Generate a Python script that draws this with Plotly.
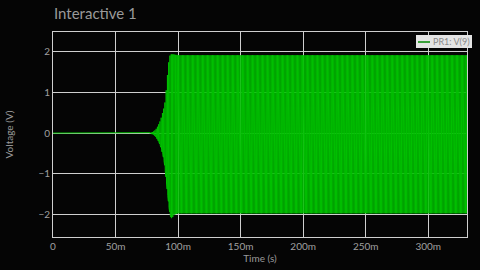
import numpy as np
import plotly.graph_objects as go

# Envelope of the oscillation (time in ms, volts)
env_time_ms = [0, 77, 80, 82, 84, 86, 88, 89, 90, 91, 92, 93, 94, 95, 97, 100, 331]
env_upper = [0, 0.005, 0.03, 0.08, 0.18, 0.32, 0.55, 0.65, 0.85, 1.25, 1.6, 1.87, 1.93, 1.93, 1.92, 1.91, 1.91]
env_lower = [0, -0.005, -0.03, -0.08, -0.18, -0.32, -0.55, -0.72, -1.0, -1.3, -1.6, -1.9, -2.05, -2.1, -2.0, -1.97, -1.97]
peak_spacing_ms = 0.25
series_name = "PR1: V(9)"

x_tick_vals = [0, 0.05, 0.10, 0.15, 0.20, 0.25, 0.30]
x_tick_text = ["0", "50m", "100m", "150m", "200m", "250m", "300m"]
y_tick_vals = [-2, -1, 0, 1, 2]

# build alternating peaks following the envelope
t_ms = np.arange(0, env_time_ms[-1] + peak_spacing_ms, peak_spacing_ms)
up = np.interp(t_ms, env_time_ms, env_upper)
lo = np.interp(t_ms, env_time_ms, env_lower)
v = np.where(np.arange(len(t_ms)) % 2 == 0, up, lo)
t_s = t_ms / 1000.0

fig = go.Figure()
fig.add_trace(go.Scatter(x=t_s, y=v, mode="lines", name=series_name,
                         line=dict(color="#00c000", width=1), showlegend=False))

grid = "#cfcfcf"
fig.update_layout(
    width=480, height=270,
    margin=dict(l=53, r=13, t=32, b=33),
    paper_bgcolor="#050505", plot_bgcolor="#050505",
    font=dict(family="Lato", color="#9a9a9a", size=10),
    title=dict(text="Interactive 1", x=54/480, xanchor="left", xref="container",
               y=1 - 14/270, yanchor="middle", yref="container",
               font=dict(size=15, color="#9a9a9a", family="Lato")),
    xaxis=dict(range=[0, 0.331], tickvals=x_tick_vals, ticktext=x_tick_text,
               showgrid=True, gridcolor=grid, gridwidth=1, zeroline=False,
               showline=True, linecolor=grid, mirror=True, ticks="", automargin=False,
               title=dict(text="Time (s)", standoff=2, font=dict(size=10, color="#9a9a9a")),
               tickfont=dict(size=10, color="#a0a0a0")),
    yaxis=dict(range=[-2.55, 2.48], tickvals=y_tick_vals,
               showgrid=True, gridcolor=grid, gridwidth=1, zeroline=False,
               showline=True, linecolor=grid, mirror=True, ticks="", automargin=False,
               title=dict(text="Voltage (V)", standoff=22, font=dict(size=10, color="#9a9a9a")),
               tickfont=dict(size=10, color="#a0a0a0")),
)

# legend box drawn as shape + sample line + text
fig.add_shape(type="rect", xref="paper", yref="paper",
              x0=(416 - 53) / 414, x1=(472 - 53) / 414,
              y0=1 - (48 - 32) / 205, y1=1 - (35 - 32) / 205,
              fillcolor="#e4e4e4", line=dict(width=0), layer="above")
fig.add_shape(type="line", xref="paper", yref="paper",
              x0=(418 - 53) / 414, x1=(430 - 53) / 414,
              y0=1 - (42 - 32) / 205, y1=1 - (42 - 32) / 205,
              line=dict(color="#3aa03a", width=2), layer="above")
fig.add_annotation(text=series_name, xref="paper", yref="paper",
                   x=(471 - 53) / 414, y=1 - (41.5 - 32) / 205, xanchor="right", yanchor="middle",
                   showarrow=False, borderpad=0, font=dict(size=9, color="#8a8a8a", family="Lato"),
                   align="right")

fig.write_html("out.html")
